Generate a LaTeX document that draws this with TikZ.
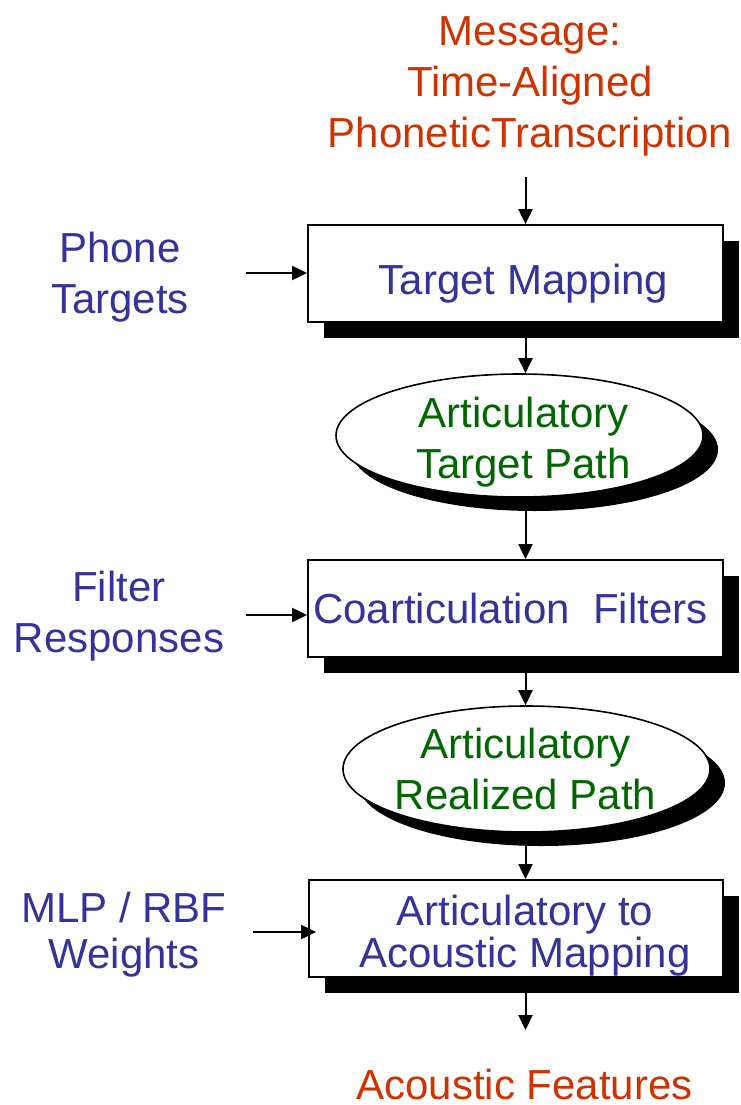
\documentclass[tikz,border=0pt]{standalone}
\usepackage{fontspec}
\setmainfont{Liberation Sans}
\usetikzlibrary{shapes.geometric,shadows,arrows.meta}

\definecolor{msgred}{RGB}{204,51,0}
\definecolor{procblue}{RGB}{51,51,153}
\definecolor{pathgreen}{RGB}{0,102,0}

% multi-line labels are placed by the baseline of their last line
\tikzset{
  big/.style={font=\fontsize{42}{51}\selectfont, inner sep=0pt, anchor=base, align=center},
  msgtext/.style={big, text=msgred},
  proctext/.style={big, text=procblue},
  pathtext/.style={big, text=pathgreen},
  procbox/.style={draw=black, line width=1.8pt, fill=white, rectangle,
    minimum width=415pt, minimum height=97pt, inner sep=0pt,
    drop shadow={shadow xshift=16pt, shadow yshift=-16pt, fill=black, opacity=1}},
  pathoval/.style={draw=black, line width=1.6pt, fill=white, ellipse,
    minimum width=367pt, inner sep=0pt,
    drop shadow={shadow xshift=15pt, shadow yshift=-14pt, fill=black, opacity=1}},
  flow/.style={line width=2pt, -{Triangle[length=15pt,width=14pt]}}
}

\begin{document}
\begin{tikzpicture}[x=1pt, y=-1pt]
  \useasboundingbox (0,0) rectangle (740,1105);
  \coordinate (spine) at (525.5,0);

  % source message
  \node[msgtext] (msg) at (530,147) {Message:\\Time-Aligned\\PhoneticTranscription};
  \coordinate (msgfoot) at (525.5,177);

  % processing chain
  \node[procbox] (map) at (515.5,273.5) {};
  \node[proctext] (maptxt) at (523.5,294) {Target Mapping};

  \node[pathoval, minimum height=123pt] (tpath) at (519.5,435.5) {};
  \node[pathtext] (tpathtxt) at (523.5,478) {Articulatory\\Target Path};

  \node[procbox] (coart) at (515.5,608.5) {};
  \node[proctext] (coarttxt) at (510.5,623) {Coarticulation~~Filters};

  \node[pathoval, minimum height=126pt] (rpath) at (526.5,769) {};
  \node[pathtext] (rpathtxt) at (525.5,809) {Articulatory\\Realized Path};

  \node[procbox, minimum width=414pt] (acmap) at (516,928.5) {};
  \node[proctext, font=\fontsize{42}{42}\selectfont] (acmaptxt) at (525,967) {Articulatory to\\Acoustic Mapping};

  \node[msgtext] (feat) at (524.5,1099) {Acoustic Features};
  \coordinate (feathead) at (525.5,1030);

  % side inputs
  \node[proctext] (phone) at (120,313) {Phone\\Targets};
  \coordinate (phonein) at (246,273);
  \node[proctext] (filt) at (119,652) {Filter\\Responses};
  \coordinate (filtin) at (246,615);
  \node[proctext, font=\fontsize{42}{46}\selectfont] (mlp) at (124,968) {MLP / RBF\\Weights};
  \coordinate (mlpin) at (253,932);

  % connectors down the chain
  \draw[flow] (msgfoot) -- (map.north -| spine);
  \draw[flow] (map.south -| spine) -- (tpath.north -| spine);
  \draw[flow] (tpath.south -| spine) -- (coart.north -| spine);
  \draw[flow] (coart.south -| spine) -- (rpath.north -| spine);
  \draw[flow] (rpath.south -| spine) -- (acmap.north -| spine);
  \draw[flow] (acmap.south -| spine) -- (feathead);

  % connectors from the side inputs
  \draw[flow] (phonein) -- (phonein -| map.west);
  \draw[flow] (filtin) -- (filtin -| coart.west);
  \draw[flow, shorten >=-8pt] (mlpin) -- (mlpin -| acmap.west);
\end{tikzpicture}
\end{document}
